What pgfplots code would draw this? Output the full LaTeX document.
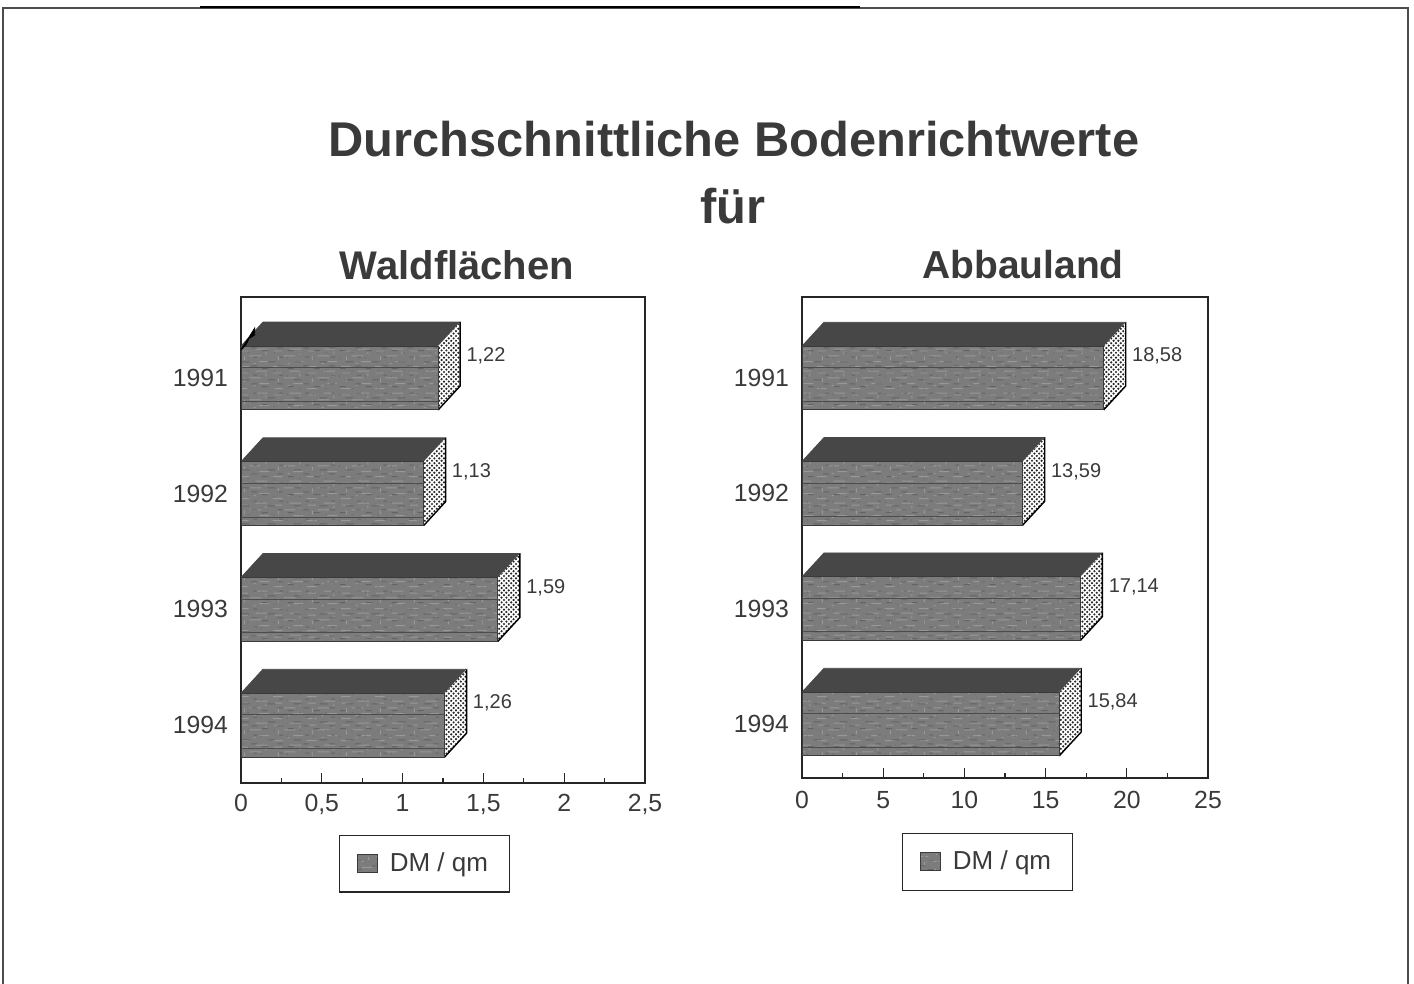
\documentclass[border=0pt]{standalone}
\usepackage{fontspec}
\setmainfont{Liberation Sans}
\usepackage{pgfplots}
\pgfplotsset{compat=1.18}
\usetikzlibrary{patterns}
\definecolor{ink}{HTML}{3A3A3A}
\definecolor{frontc}{HTML}{7C7C7C}
\definecolor{specklight}{HTML}{989898}
\definecolor{speckdark}{HTML}{646464}
\definecolor{topc}{HTML}{474747}
\pgfdeclarepatternformonly{sidedots}{\pgfqpoint{-.6pt}{-.6pt}}{\pgfqpoint{1.8pt}{1.8pt}}{\pgfqpoint{2.4pt}{2.4pt}}{
  \pgfpathcircle{\pgfqpoint{0pt}{0pt}}{.6pt}
  \pgfpathcircle{\pgfqpoint{1.2pt}{1.2pt}}{.6pt}
  \pgfusepath{fill}
}
\pgfdeclarepatternformonly{mottlelight}{\pgfqpoint{0pt}{0pt}}{\pgfqpoint{17pt}{11pt}}{\pgfqpoint{17pt}{11pt}}{
  \pgfpathrectangle{\pgfqpoint{0.5pt}{0.5pt}}{\pgfqpoint{5pt}{.5pt}}
  \pgfpathrectangle{\pgfqpoint{8pt}{2pt}}{\pgfqpoint{1pt}{.5pt}}
  \pgfpathrectangle{\pgfqpoint{11pt}{3pt}}{\pgfqpoint{5pt}{.5pt}}
  \pgfpathrectangle{\pgfqpoint{3pt}{4pt}}{\pgfqpoint{.5pt}{2pt}}
  \pgfpathrectangle{\pgfqpoint{6pt}{6pt}}{\pgfqpoint{6pt}{.5pt}}
  \pgfpathrectangle{\pgfqpoint{14pt}{7pt}}{\pgfqpoint{.5pt}{1.5pt}}
  \pgfpathrectangle{\pgfqpoint{1pt}{8.5pt}}{\pgfqpoint{4pt}{.5pt}}
  \pgfpathrectangle{\pgfqpoint{9pt}{9.5pt}}{\pgfqpoint{6pt}{.5pt}}
  \pgfusepath{fill}
}
\pgfdeclarepatternformonly{mottledark}{\pgfqpoint{0pt}{0pt}}{\pgfqpoint{13pt}{9pt}}{\pgfqpoint{13pt}{9pt}}{
  \pgfpathrectangle{\pgfqpoint{1pt}{1.5pt}}{\pgfqpoint{3pt}{.5pt}}
  \pgfpathrectangle{\pgfqpoint{7pt}{0.5pt}}{\pgfqpoint{.5pt}{.5pt}}
  \pgfpathrectangle{\pgfqpoint{9pt}{3pt}}{\pgfqpoint{3pt}{.5pt}}
  \pgfpathrectangle{\pgfqpoint{4pt}{5pt}}{\pgfqpoint{4pt}{.5pt}}
  \pgfpathrectangle{\pgfqpoint{0.5pt}{7pt}}{\pgfqpoint{.5pt}{.5pt}}
  \pgfpathrectangle{\pgfqpoint{10pt}{7.5pt}}{\pgfqpoint{2pt}{.5pt}}
  \pgfusepath{fill}
}
% #1 year, #2 value, #3 depth in x units, #4 label
\newcommand{\boxbar}[4]{
  \addplot[forget plot,draw=topc,fill=topc] coordinates {(0,#1-0.276) (#3,#1-0.483) (#2+#3,#1-0.483) (#2,#1-0.276)} -- cycle;
  \addplot[forget plot,draw=none,fill=white,postaction={pattern=sidedots,pattern color=black!85}] coordinates {(#2,#1-0.276) (#2+#3,#1-0.483) (#2+#3,#1+0.069) (#2,#1+0.276)} -- cycle;
  \addplot[forget plot,draw=black,line width=.7pt] coordinates {(#2+#3,#1-0.483) (#2+#3,#1+0.069) (#2,#1+0.276)};
  \addplot[forget plot,draw=ink,line width=.5pt,fill=frontc,postaction={pattern=mottlelight,pattern color=specklight},postaction={pattern=mottledark,pattern color=speckdark}] coordinates {(0,#1-0.276) (#2,#1-0.276) (#2,#1+0.276) (0,#1+0.276)} -- cycle;
  \addplot[forget plot,draw=black!70,line width=.25pt] coordinates {(0,#1-0.09) (#2,#1-0.09)};
  \addplot[forget plot,draw=black!70,line width=.25pt] coordinates {(0,#1+0.2) (#2,#1+0.2)};
  \node[anchor=west,inner xsep=3pt,inner ysep=0pt,font=\fontsize{10}{12}\selectfont,text=ink] at (axis cs:#2+#3,#1-0.19) {#4};
}
\pgfplotsset{boxaxis/.style={
  scale only axis,
  anchor=south west,
  y dir=reverse,
  axis line style={line width=.7pt,black!85},
  ytick={1991,1992,1993,1994},
  major tick length=5pt,
  minor tick length=2.5pt,
  tick align=inside,
  xtick pos=bottom,
  ytick pos=left,
  y tick style={draw=none},
  x tick style={line width=.6pt,black!85},
  minor x tick num=1,
  /pgf/number format/assume math mode=true,
  /pgf/number format/use comma,
  /pgf/number format/1000 sep={},
  tick label style={font=\fontsize{12.4}{14}\selectfont,text=ink},
  yticklabel style={xshift=-3pt},
  legend cell align=left,
  legend style={draw=black!85,line width=.6pt,font=\fontsize{13}{15}\selectfont,text=ink,inner xsep=8.75pt,inner ysep=6.75pt,anchor=north},
}}
\pgfplotsset{swatch/.style={legend image code/.code={
    \draw[fill=frontc,draw=ink,line width=.5pt,postaction={pattern=mottlelight,pattern color=specklight},postaction={pattern=mottledark,pattern color=speckdark}] (8pt,-4.5pt) rectangle (18pt,4.5pt);
}}}
\begin{document}
\begin{tikzpicture}[x=1pt,y=1pt]
\useasboundingbox (0,0) rectangle (707,492);
\draw[line width=.6pt,black!70] (1.5,-2) -- (1.5,488) -- (704,488) -- (704,-2);
\draw[line width=1pt,black] (100,488.3) -- (430,488.3);
\node[font=\bfseries\fontsize{24.4}{28}\selectfont,text=ink] at (367,422.5) {Durchschnittliche Bodenrichtwerte};
\node[font=\bfseries\fontsize{24.4}{28}\selectfont,text=ink] at (366.5,389) {für};
\node[font=\bfseries\fontsize{20}{24}\selectfont,text=ink] at (228.5,359.5) {Waldflächen};
\node[font=\bfseries\fontsize{19.5}{24}\selectfont,text=ink] at (511.5,359.5) {Abbauland};

\begin{axis}[boxaxis,
  at={(120.5pt,100.5pt)}, width=202pt, height=243pt,
  xmin=0, xmax=2.5, ymin=1990.30, ymax=1994.50,
  xtick={0,0.5,1,1.5,2,2.5},
  xticklabel style={yshift=-2pt},
  legend style={at={(0.454,-0.106)}},
]
\addlegendimage{swatch}
\addlegendentry{\hspace{4pt}DM / qm}
\boxbar{1991}{1.22}{0.136}{1,22}
\boxbar{1992}{1.13}{0.136}{1,13}
\boxbar{1993}{1.59}{0.136}{1,59}
\boxbar{1994}{1.26}{0.136}{1,26}
\addplot[forget plot,fill=black,draw=black] coordinates {(0,1990.758) (0.085,1990.568) (0.085,1990.628) (0.05,1990.66) (0.03,1990.715)} -- cycle;
\end{axis}

\begin{axis}[boxaxis,
  at={(401pt,103pt)}, width=203pt, height=240.5pt,
  xmin=0, xmax=25, ymin=1990.298, ymax=1994.468,
  xtick={0,5,10,15,20,25},
  xticklabel style={yshift=-3pt},
  legend style={at={(0.457,-0.114)}},
]
\addlegendimage{swatch}
\addlegendentry{\hspace{4pt}DM / qm}
\boxbar{1991}{18.58}{1.355}{18,58}
\boxbar{1992}{13.59}{1.355}{13,59}
\boxbar{1993}{17.14}{1.355}{17,14}
\boxbar{1994}{15.84}{1.355}{15,84}
\end{axis}
\end{tikzpicture}
\end{document}
